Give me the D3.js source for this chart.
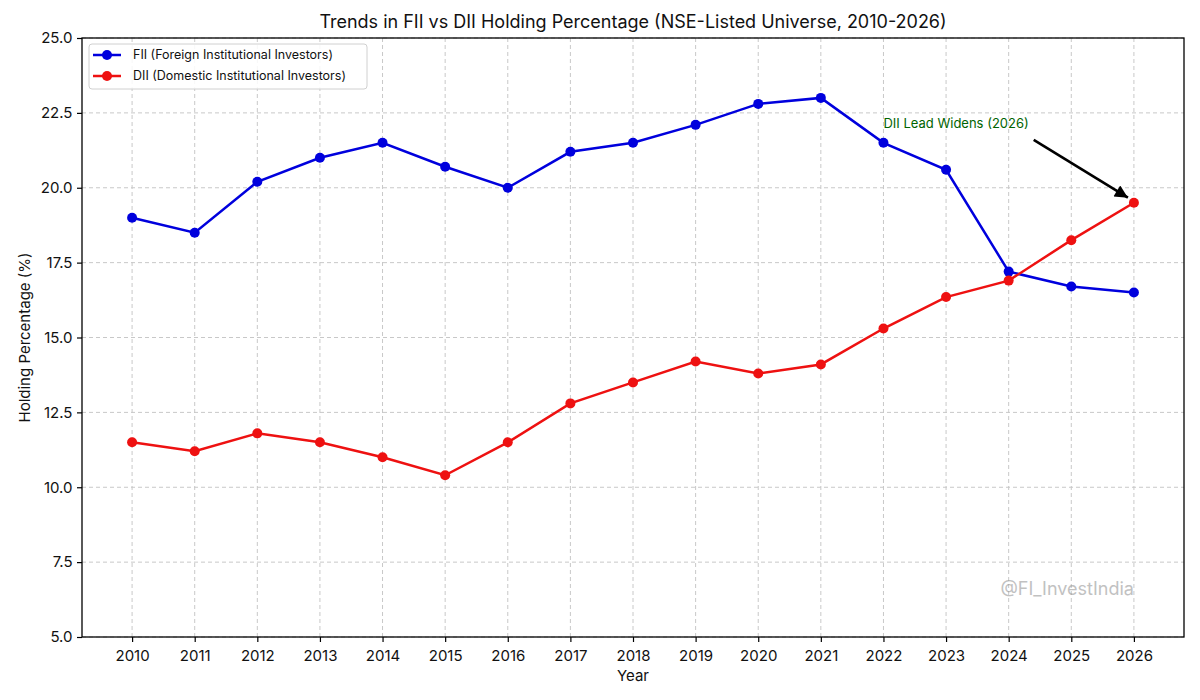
<!DOCTYPE html>
<html>
<head>
<meta charset="utf-8">
<script src="https://cdn.jsdelivr.net/npm/d3@7"></script>
<style>
  body { margin: 0; background: #fff; }
  text { font-family: Inter, "Open Sans", sans-serif; }
</style>
</head>
<body>
<div id="chart-area"></div>
<script>
let years = [2010, 2011, 2012, 2013, 2014, 2015, 2016, 2017, 2018, 2019, 2020, 2021, 2022, 2023, 2024, 2025, 2026];
let fii = [19.0, 18.5, 20.2, 21.0, 21.5, 20.7, 20.0, 21.2, 21.5, 22.1, 22.8, 23.0, 21.5, 20.6, 17.2, 16.7, 16.5];
let dii = [11.5, 11.2, 11.8, 11.5, 11.0, 10.4, 11.5, 12.8, 13.5, 14.2, 13.8, 14.1, 15.3, 16.35, 16.9, 18.25, 19.5];
let yTicks = [5, 7.5, 10, 12.5, 15, 17.5, 20, 22.5, 25];
let seriesNames = ["FII (Foreign Institutional Investors)", "DII (Domestic Institutional Investors)"];
let seriesColors = ["#0000dd", "#ee1111"];

let margin = { top: 38, right: 16, bottom: 63, left: 82 },
	width = 1200 - margin.left - margin.right,
	height = 700 - margin.top - margin.bottom;

let svg = d3.select("#chart-area").append("svg")
	.attr("width", 1200)
	.attr("height", 700);

let group = svg.append("g")
	.attr("transform", "translate(" + margin.left + "," + margin.top + ")");

let x = d3.scaleLinear()
	.domain([2009.2, 2026.8])
	.range([0, width]);

let y = d3.scaleLinear()
	.domain([5, 25])
	.range([height, 0]);

// grid
group.append("g").selectAll("line").data(years).enter()
	.append("line")
	.attr("x1", d => x(d)).attr("x2", d => x(d))
	.attr("y1", 0).attr("y2", height)
	.attr("stroke", "#c8c8c8").attr("stroke-width", 1)
	.attr("stroke-dasharray", "4,3");

group.append("g").selectAll("line").data(yTicks).enter()
	.append("line")
	.attr("x1", 0).attr("x2", width)
	.attr("y1", d => y(d)).attr("y2", d => y(d))
	.attr("stroke", "#c8c8c8").attr("stroke-width", 1)
	.attr("stroke-dasharray", "4,3");

// axes
let axisBottom = d3.axisBottom(x).tickValues(years).tickFormat(d3.format("d")).tickSize(5).tickSizeOuter(0);
let gx = group.append("g")
	.attr("transform", "translate(0," + height + ")")
	.call(axisBottom);

let axisLeft = d3.axisLeft(y).tickValues(yTicks).tickFormat(d3.format(".1f")).tickSize(5).tickSizeOuter(0);
let gy = group.append("g").call(axisLeft);

[gx, gy].forEach(g => {
	g.select(".domain").remove();
	g.selectAll(".tick line").attr("stroke", "#000").attr("stroke-width", 1.2);
	g.selectAll(".tick text").attr("font-size", "15px").attr("fill", "#111");
});
gx.selectAll(".tick text").attr("dy", "1.05em");
gy.selectAll(".tick text").attr("dx", "-0.1em");

group.append("rect")
	.attr("x", 0).attr("y", 0)
	.attr("width", width).attr("height", height)
	.attr("fill", "none").attr("stroke", "#000").attr("stroke-width", 1.3);

// lines
let line = d3.line()
	.x((d, i) => x(years[i]))
	.y(d => y(d));

[fii, dii].forEach((vals, k) => {
	group.append("path")
		.datum(vals)
		.attr("d", line)
		.attr("fill", "none")
		.attr("stroke", seriesColors[k])
		.attr("stroke-width", 2.5);
	group.append("g").selectAll("circle").data(vals).enter()
		.append("circle")
		.attr("cx", (d, i) => x(years[i]))
		.attr("cy", d => y(d))
		.attr("r", 5)
		.attr("fill", seriesColors[k]);
});

// annotation
svg.append("defs").append("marker")
	.attr("id", "head")
	.attr("viewBox", "0 0 10 10")
	.attr("refX", 10).attr("refY", 5)
	.attr("markerWidth", 6).attr("markerHeight", 5)
	.attr("markerUnits", "strokeWidth")
	.attr("orient", "auto")
	.append("path")
	.attr("d", "M0,0 L10,5 L0,10 z")
	.attr("fill", "#000");

group.append("text")
	.attr("x", x(2022))
	.attr("y", y(22))
	.attr("font-size", "13px")
	.attr("fill", "#006400")
	.text("DII Lead Widens (2026)");

let tipX = x(2026) - 6, tipY = y(19.5) - 5;
group.append("line")
	.attr("x1", x(2024.4)).attr("y1", y(21.6))
	.attr("x2", tipX).attr("y2", tipY)
	.attr("stroke", "#000").attr("stroke-width", 2.6)
	.attr("marker-end", "url(#head)");

// watermark
group.append("text")
	.attr("x", x(2026))
	.attr("y", y(6.4))
	.attr("text-anchor", "end")
	.attr("font-size", "18px")
	.attr("fill", "#999")
	.attr("opacity", 0.6)
	.text("@FI_InvestIndia");

// legend
let legend = group.append("g").attr("transform", "translate(7,6)");
legend.append("rect")
	.attr("width", 278).attr("height", 45)
	.attr("rx", 3)
	.attr("fill", "#fff").attr("fill-opacity", 0.85)
	.attr("stroke", "#d0d0d0");
seriesNames.forEach((name, k) => {
	let ly = 11 + k * 21;
	legend.append("line")
		.attr("x1", 4).attr("x2", 32)
		.attr("y1", ly).attr("y2", ly)
		.attr("stroke", seriesColors[k]).attr("stroke-width", 2.5);
	legend.append("circle")
		.attr("cx", 18).attr("cy", ly).attr("r", 5)
		.attr("fill", seriesColors[k]);
	legend.append("text")
		.attr("x", 44).attr("y", ly)
		.attr("dy", "0.35em")
		.attr("font-size", "12.5px")
		.attr("fill", "#111")
		.text(name);
});

// labels
svg.append("text")
	.attr("x", margin.left + width / 2)
	.attr("y", 28)
	.attr("text-anchor", "middle")
	.attr("font-size", "18px")
	.attr("fill", "#111")
	.text("Trends in FII vs DII Holding Percentage (NSE-Listed Universe, 2010-2026)");

svg.append("text")
	.attr("x", margin.left + width / 2)
	.attr("y", 681)
	.attr("text-anchor", "middle")
	.attr("font-size", "15px")
	.attr("fill", "#111")
	.text("Year");

svg.append("text")
	.attr("transform", "translate(30," + (margin.top + height / 2) + ") rotate(-90)")
	.attr("text-anchor", "middle")
	.attr("font-size", "15px")
	.attr("fill", "#111")
	.text("Holding Percentage (%)");
</script>
</body>
</html>
